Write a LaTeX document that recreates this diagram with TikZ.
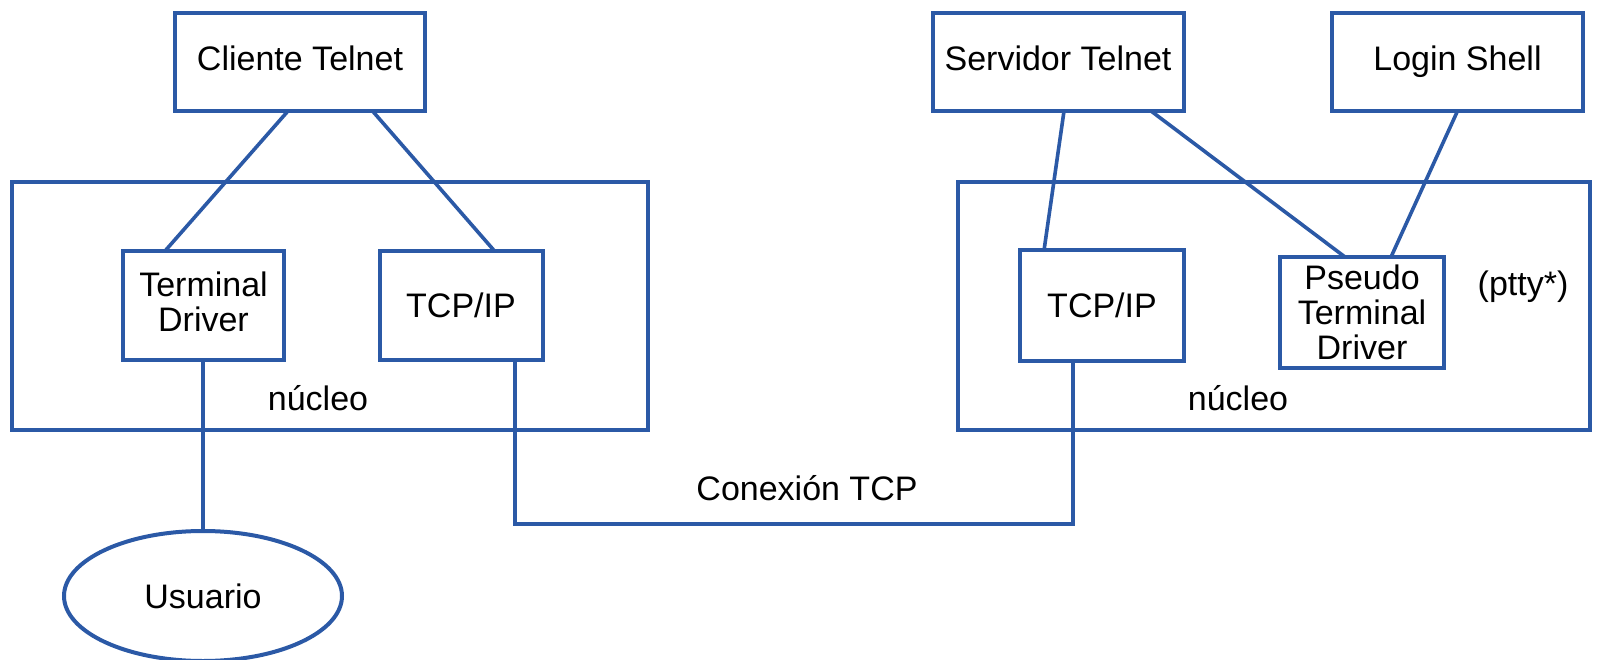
\documentclass[tikz,border=0pt]{standalone}
\usepackage{fontspec}
\setmainfont{Liberation Sans}
\usetikzlibrary{shapes.geometric}
\definecolor{lineblue}{RGB}{43,89,166}
\tikzset{
  box/.style={draw=lineblue, line width=4pt, fill=white, inner sep=0pt, outer sep=0pt, align=center,
    font=\fontsize{34}{35}\selectfont},
  kernel/.style={draw=lineblue, line width=4pt, inner sep=0pt, outer sep=0pt},
  link/.style={draw=lineblue, line width=3.6pt},
  lbl/.style={inner sep=0pt, font=\fontsize{34}{35}\selectfont}
}
\begin{document}
\begin{tikzpicture}[x=1pt,y=-1pt]
\useasboundingbox (0,0) rectangle (1597,660);
% kernels
\node[kernel, minimum width=636pt, minimum height=247pt] (kl) at (330,306) {};
\node[kernel, minimum width=632pt, minimum height=248pt] (kr) at (1274,306) {};
% top boxes
\node[box, text depth=8pt, minimum width=250pt, minimum height=98pt] (cli) at (300,62) {Cliente Telnet};
\node[box, text depth=8pt, minimum width=251pt, minimum height=98pt] (srv) at (1058,62) {Servidor Telnet};
\node[box, text depth=8pt, minimum width=251pt, minimum height=98pt] (login) at (1457.5,62) {Login Shell};
% inner boxes
\node[box, text depth=7pt, minimum width=161pt, minimum height=109pt] (td) at (203.5,305.5) {Terminal\\Driver};
\node[box, minimum width=163pt, minimum height=109pt] (tcpl) at (461,305.5) {TCP/IP};
\node[box, minimum width=163.5pt, minimum height=110pt] (tcpr) at (1102,305.5) {TCP/IP};
\node[box, minimum width=163.5pt, minimum height=111pt] (pty) at (1362,312.5) {Pseudo\\Terminal\\Driver};
% user
\node[draw=lineblue, line width=4pt, ellipse, minimum width=278pt, minimum height=130pt, inner sep=0pt, outer sep=0pt,
  font=\fontsize{34}{35}\selectfont] (user) at (203,596) {Usuario};
% labels
\node[lbl] (nl) at (318,398) {núcleo};
\node[lbl] (nr) at (1238,398) {núcleo};
\node[lbl] (ptty) at (1523,287) {(ptty*)};
\node[lbl] (conn) at (807,488) {Conexión TCP};
% connectors
\draw[link] ([xshift=-12pt]cli.south) -- ([xshift=-38.5pt]td.north);
\draw[link] ([xshift=72.5pt]cli.south) -- ([xshift=33.5pt]tcpl.north);
\draw[link] ([xshift=6pt]srv.south) -- ([xshift=-58pt]tcpr.north);
\draw[link] ([xshift=93pt]srv.south) -- ([xshift=-17pt]pty.north);
\draw[link] (login.south) -- ([xshift=29pt]pty.north);
\draw[link] ([xshift=-0.5pt]td.south) -- (user.north);
\draw[link] ([xshift=54pt]tcpl.south) -- ++(0,164) -| ([xshift=-29pt]tcpr.south);
\end{tikzpicture}
\end{document}
